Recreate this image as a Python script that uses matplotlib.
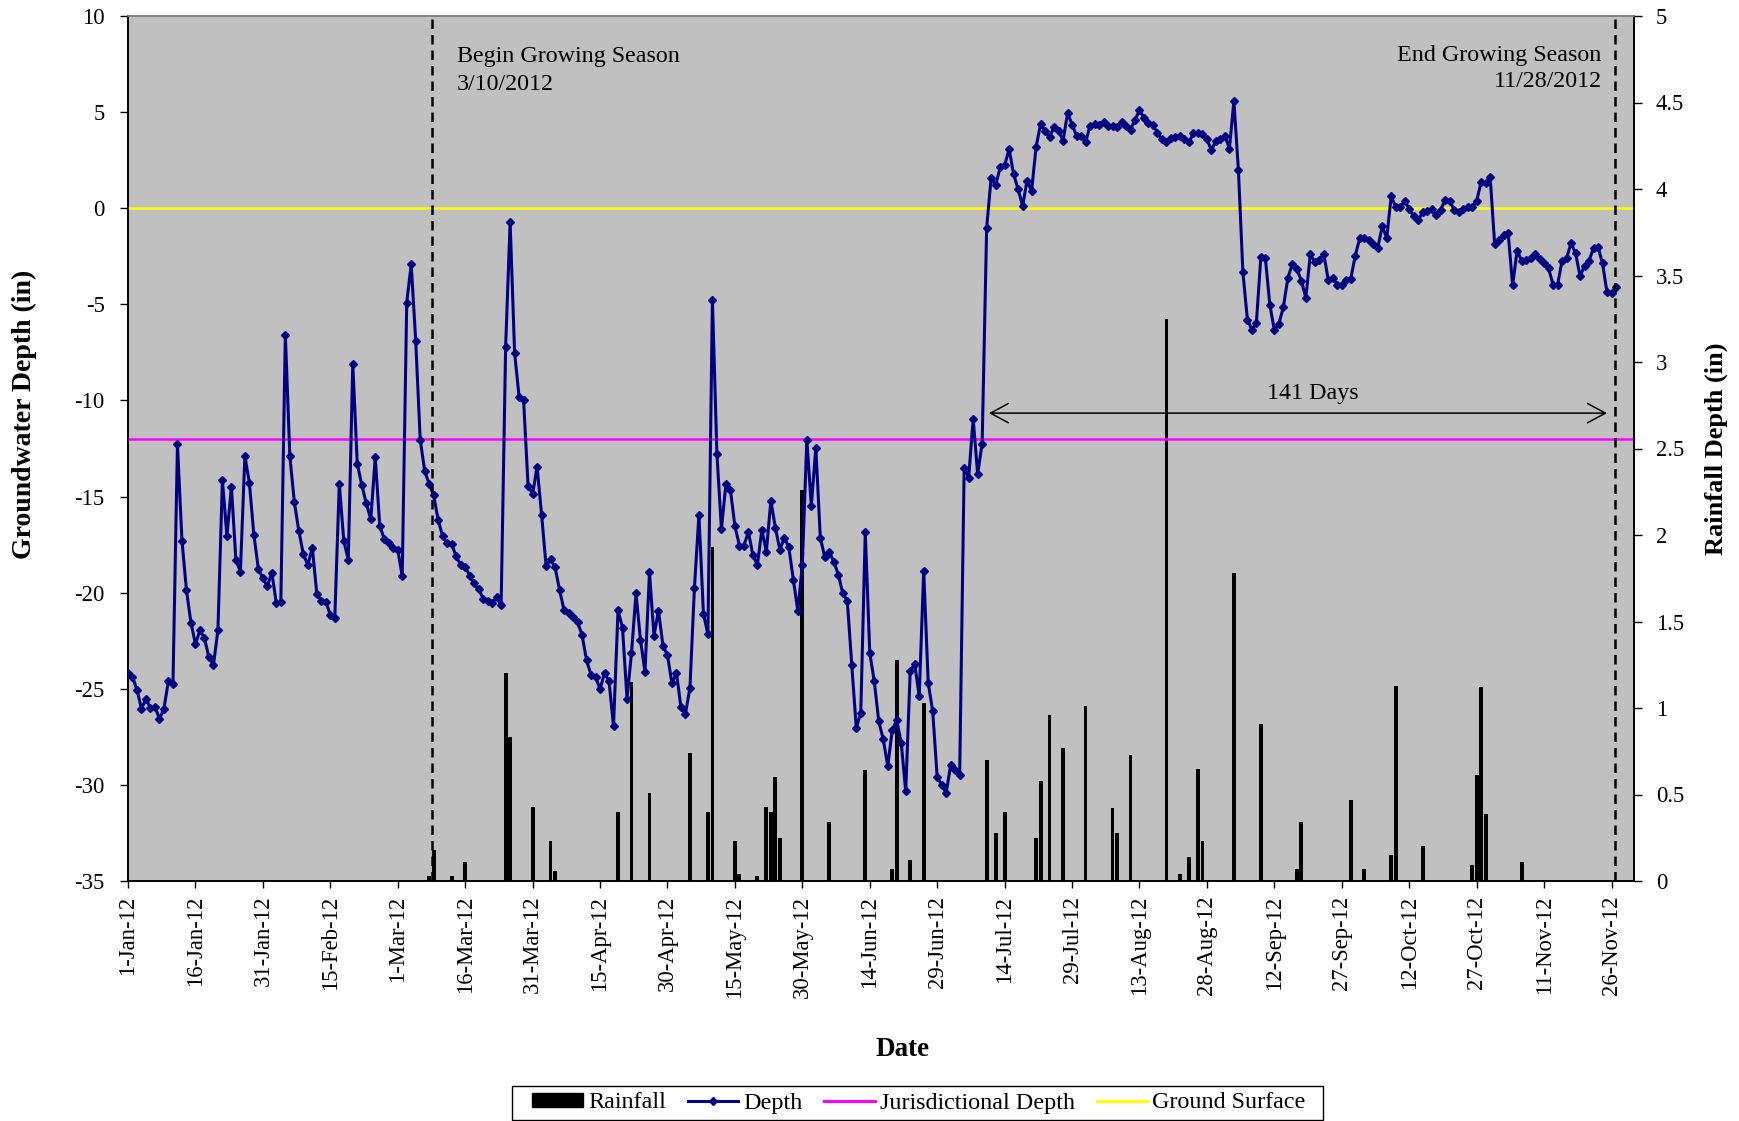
import numpy as np
import pandas as pd
import matplotlib
matplotlib.use('Agg')
import matplotlib.pyplot as plt
import matplotlib.dates as mdates
from matplotlib.patches import Patch, Rectangle
from matplotlib.lines import Line2D

plt.rcParams['font.family'] = ['Liberation Serif', 'DejaVu Serif']
plt.rcParams['axes.unicode_minus'] = False

# ---------------- data ----------------
start_date = '2012-01-01'

depth = [
    -24.17, -24.37, -25.07, -26.03, -25.53, -26.01, -25.93, -26.57, -26.03, -24.57,
    -24.77, -12.28, -17.29, -19.86, -21.56, -22.67, -21.96, -22.36, -23.37, -23.77,
    -21.96, -14.15, -17.05, -14.49, -18.30, -18.90, -12.89, -14.29, -16.99, -18.76,
    -19.26, -19.66, -18.96, -20.56, -20.46, -6.59, -12.89, -15.29, -16.79, -18.00,
    -18.56, -17.66, -20.06, -20.42, -20.46, -21.16, -21.30, -14.35, -17.29, -18.30,
    -8.10, -13.29, -14.39, -15.35, -16.19, -12.95, -16.53, -17.20, -17.40, -17.66,
    -17.77, -19.13, -4.91, -2.92, -6.90, -12.04, -13.67, -14.35, -14.94, -16.23,
    -17.07, -17.43, -17.48, -18.11, -18.56, -18.65, -19.11, -19.51, -19.81, -20.31,
    -20.42, -20.53, -20.24, -20.65, -7.22, -0.72, -7.52, -9.83, -10.00, -14.47,
    -14.87, -13.45, -15.94, -18.61, -18.27, -18.68, -19.86, -20.92, -21.05, -21.28,
    -21.55, -22.19, -23.52, -24.27, -24.38, -25.02, -24.16, -24.61, -26.94, -20.92,
    -21.82, -25.51, -23.14, -20.04, -22.46, -24.11, -18.95, -22.23, -20.94, -22.75,
    -23.25, -24.72, -24.16, -25.97, -26.31, -24.95, -19.74, -15.94, -21.10, -22.16,
    -4.80, -12.77, -16.69, -14.35, -14.65, -16.53, -17.55, -17.55, -16.84, -18.04,
    -18.56, -16.73, -17.86, -15.21, -16.62, -17.77, -17.14, -17.64, -19.33, -20.94,
    -18.56, -12.04, -15.49, -12.45, -17.14, -18.16, -17.89, -18.38, -19.06, -20.04,
    -20.42, -23.77, -27.03, -26.26, -16.84, -23.14, -24.61, -26.69, -27.63, -29.02,
    -27.16, -26.63, -27.82, -30.34, -24.05, -23.71, -25.38, -18.87, -24.69, -26.17,
    -29.60, -30.00, -30.42, -28.96, -29.23, -29.49, -13.49, -14.02, -10.96, -13.83,
    -12.24, -1.01, 1.57, 1.19, 2.12, 2.23, 3.08, 1.78, 0.98, 0.13,
    1.43, 0.90, 3.19, 4.38, 4.03, 3.69, 4.25, 4.03, 3.50, 4.96,
    4.35, 3.77, 3.77, 3.42, 4.30, 4.38, 4.35, 4.51, 4.30, 4.30,
    4.25, 4.51, 4.30, 4.09, 4.60, 5.10, 4.70, 4.43, 4.35, 3.90,
    3.58, 3.42, 3.64, 3.72, 3.77, 3.61, 3.42, 3.90, 3.90, 3.85,
    3.58, 3.03, 3.50, 3.58, 3.77, 3.10, 5.57, 1.99, -3.32, -5.79,
    -6.32, -5.97, -2.52, -2.60, -5.04, -6.34, -6.02, -5.15, -3.64, -2.89,
    -3.16, -3.77, -4.67, -2.39, -2.81, -2.68, -2.39, -3.74, -3.61, -3.98,
    -3.98, -3.74, -3.66, -2.47, -1.54, -1.54, -1.67, -1.86, -2.07, -0.93,
    -1.54, 0.64, 0.05, 0.05, 0.37, -0.03, -0.42, -0.61, -0.21, -0.16,
    -0.03, -0.35, -0.08, 0.45, 0.37, -0.08, -0.21, -0.03, 0.05, 0.05,
    0.37, 1.38, 1.33, 1.65, -1.86, -1.67, -1.41, -1.27, -4.01, -2.20,
    -2.73, -2.68, -2.60, -2.39, -2.65, -2.87, -3.13, -3.98, -3.98, -2.73,
    -2.60, -1.81, -2.34, -3.53, -3.00, -2.73, -2.07, -2.02, -2.87, -4.38,
    -4.41, -4.11,
]

rain_dates = [
    '2012-03-08', '2012-03-09', '2012-03-13', '2012-03-16', '2012-03-25', '2012-03-26',
    '2012-03-31', '2012-04-04', '2012-04-05', '2012-04-19', '2012-04-22', '2012-04-26',
    '2012-05-05', '2012-05-09', '2012-05-10', '2012-05-15', '2012-05-16', '2012-05-20',
    '2012-05-22', '2012-05-23', '2012-05-24', '2012-05-25', '2012-05-30', '2012-06-05',
    '2012-06-13', '2012-06-19', '2012-06-20', '2012-06-23', '2012-06-26', '2012-07-10',
    '2012-07-12', '2012-07-14', '2012-07-21', '2012-07-22', '2012-07-24', '2012-07-27',
    '2012-08-01', '2012-08-07', '2012-08-08', '2012-08-11', '2012-08-19', '2012-08-22',
    '2012-08-24', '2012-08-26', '2012-08-27', '2012-09-03', '2012-09-09', '2012-09-17',
    '2012-09-18', '2012-09-29', '2012-10-02', '2012-10-08', '2012-10-09', '2012-10-15',
    '2012-10-26', '2012-10-27', '2012-10-28', '2012-10-29', '2012-11-06',
]
rain = [
    0.03, 0.18, 0.03, 0.11, 1.20, 0.83,
    0.43, 0.23, 0.06, 0.40, 1.15, 0.51,
    0.74, 0.40, 1.93, 0.23, 0.04, 0.03,
    0.43, 0.40, 0.60, 0.25, 2.26, 0.34,
    0.64, 0.07, 1.28, 0.12, 1.03, 0.70,
    0.28, 0.40, 0.25, 0.58, 0.96, 0.77,
    1.01, 0.42, 0.28, 0.73, 3.25, 0.04,
    0.14, 0.65, 0.23, 1.78, 0.91, 0.07,
    0.34, 0.47, 0.07, 0.15, 1.13, 0.20,
    0.09, 0.61, 1.12, 0.39, 0.11,
]

jurisdictional_depth = -12
ground_surface = 0

x_tick_labels = ['1-Jan-12', '16-Jan-12', '31-Jan-12', '15-Feb-12', '1-Mar-12', '16-Mar-12',
                 '31-Mar-12', '15-Apr-12', '30-Apr-12', '15-May-12', '30-May-12', '14-Jun-12',
                 '29-Jun-12', '14-Jul-12', '29-Jul-12', '13-Aug-12', '28-Aug-12', '12-Sep-12',
                 '27-Sep-12', '12-Oct-12', '27-Oct-12', '11-Nov-12', '26-Nov-12']
left_ticks = [-35, -30, -25, -20, -15, -10, -5, 0, 5, 10]
right_ticks = [0, 0.5, 1, 1.5, 2, 2.5, 3, 3.5, 4, 4.5, 5]
right_tick_labels = ['0', '0.5', '1', '1.5', '2', '2.5', '3', '3.5', '4', '4.5', '5']

begin_line_date = '2012-03-08 14:00'
end_line_date = '2012-11-26 17:00'
arrow_start = '2012-07-10 12:00'
arrow_end = '2012-11-25 00:00'
arrow_level = -10.66

# ---------------- figure ----------------
W, H = 1739, 1121
fig = plt.figure(figsize=(W / 100, H / 100), dpi=100, facecolor='white')
ax1 = fig.add_axes([128 / W, 1 - 881 / H, (1634 - 128) / W, (881 - 16) / H])
ax2 = ax1.twinx()
ax1.set_zorder(ax2.get_zorder() + 1)
ax1.patch.set_visible(False)
ax2.patch.set_visible(True)
ax2.patch.set_facecolor('#C0C0C0')

dates = pd.date_range(start_date, periods=len(depth), freq='D')
tick_dates = pd.date_range(start_date, periods=len(x_tick_labels), freq='15D')

# rainfall bars
ax2.bar(pd.to_datetime(rain_dates), rain, width=0.85, color='black', align='center', zorder=2)
ax2.set_ylim(0, 5)
ax2.set_yticks(right_ticks)
ax2.set_yticklabels(right_tick_labels)

# reference lines
ax1.axhline(jurisdictional_depth, color='#FF00FF', lw=1.8, zorder=2)
ax1.axhline(ground_surface, color='#FFFF00', lw=1.8, zorder=2)

# depth series
ax1.plot(dates, depth, color='#000080', lw=2.2, marker='D', markersize=4.5,
         markeredgewidth=1.0, markerfacecolor='#000080', markeredgecolor='#000080', zorder=3)

# growing season dashed lines
dash = (0, (3.8, 2.4))
ax1.axvline(pd.Timestamp(begin_line_date), color='black', lw=1.8, linestyle=dash, zorder=4)
ax1.axvline(pd.Timestamp(end_line_date), color='black', lw=1.8, linestyle=dash, zorder=4)

ax1.set_xlim(pd.Timestamp('2012-01-01'), pd.Timestamp('2012-12-01'))
ax1.set_ylim(-35, 10)
ax1.set_yticks(left_ticks)
ax1.set_yticklabels([str(t) for t in left_ticks])
ax1.set_xticks(tick_dates)
ax1.set_xticklabels(x_tick_labels, rotation=90, ha='center', va='top')

fs_tick = 16.3
ax1.tick_params(axis='y', direction='out', length=5.8, width=1, pad=11, labelsize=fs_tick, colors='black')
ax1.tick_params(axis='x', direction='out', length=5.2, width=1, pad=5.5, labelsize=fs_tick, colors='black')
ax2.tick_params(axis='y', direction='out', length=5.8, width=1, pad=10, labelsize=fs_tick, colors='black')

for ax in (ax1, ax2):
    for s in ax.spines.values():
        s.set_linewidth(1.2)
    ax.spines['top'].set_color('#808080')
    ax.spines['left'].set_color('black')
    ax.spines['bottom'].set_color('black')
    ax.spines['right'].set_color('black')

# annotations
fs_ann = 17.3
ax1.text(pd.Timestamp('2012-03-14 05:00'), 7.61, 'Begin Growing Season', fontsize=fs_ann,
         ha='left', va='baseline', zorder=5)
ax1.text(pd.Timestamp('2012-03-14 05:00'), 6.15, '3/10/2012', fontsize=fs_ann,
         ha='left', va='baseline', zorder=5)
ax1.text(pd.Timestamp('2012-11-23 19:00'), 7.66, 'End Growing Season', fontsize=fs_ann,
         ha='right', va='baseline', zorder=5)
ax1.text(pd.Timestamp('2012-11-23 19:00'), 6.29, '11/28/2012', fontsize=fs_ann,
         ha='right', va='baseline', zorder=5)
ax1.text(pd.Timestamp('2012-09-20 12:00'), -9.93, '141 Days', fontsize=fs_ann,
         ha='center', va='baseline', zorder=5)
ax1.annotate('', xy=(pd.Timestamp(arrow_end), arrow_level),
             xytext=(pd.Timestamp(arrow_start), arrow_level),
             arrowprops=dict(arrowstyle='<->,head_length=1.3,head_width=0.7', lw=1.1,
                             color='black', shrinkA=0, shrinkB=0, mutation_scale=10),
             zorder=5)

# axis titles
fig.text(24 / W, 1 - 414 / H, 'Groundwater Depth (in)', rotation=90, ha='center', va='center',
         fontsize=20, fontweight='bold')
fig.text(1716 / W, 1 - 449 / H, 'Rainfall Depth (in)', rotation=90, ha='center', va='center',
         fontsize=19, fontweight='bold')
fig.text(903 / W, 1 - 1050 / H, 'Date', ha='center', va='center', fontsize=19.5, fontweight='bold')

# legend
handles = [
    Patch(facecolor='black', edgecolor='black'),
    Line2D([], [], color='#000080', lw=2.2, marker='D', markersize=4.5, markerfacecolor='#000080'),
    Line2D([], [], color='#FF00FF', lw=2.2),
    Line2D([], [], color='#FFFF00', lw=2.2),
]
labels = ['Rainfall', 'Depth', 'Jurisdictional Depth', 'Ground Surface']
leg = fig.legend(handles, labels, loc='center', bbox_to_anchor=(919 / W, 1 - 1103 / H),
                 ncol=4, fontsize=17.4, frameon=False,
                 handlelength=2.1, handleheight=0.55, handletextpad=0.2, columnspacing=0.9,
                 borderpad=0.2, borderaxespad=0)
fig.patches.append(Rectangle((512 / W, 1 - 1120 / H), (1323 - 512) / W, (1120 - 1086) / H,
                             transform=fig.transFigure, facecolor='none', edgecolor='black',
                             linewidth=1.0))

fig.savefig('out.png', dpi=100, facecolor='white')
